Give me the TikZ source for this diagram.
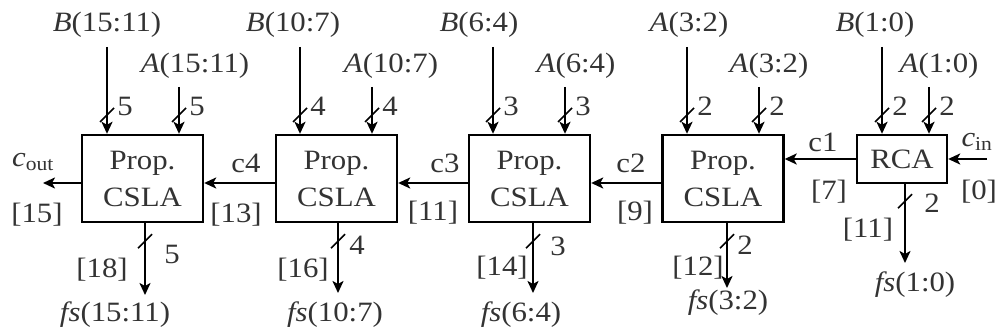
\documentclass[tikz,border=0pt]{standalone}
\usepackage{fontspec}
\setmainfont[FakeStretch=1.1]{Liberation Serif}
\usetikzlibrary{arrows.meta,decorations.markings}
\tikzset{
    blk/.style={rectangle, draw, line width=2.4pt, minimum width=121pt, minimum height=87pt, align=center, inner sep=0pt, text=black!80},
    wire/.style={line width=2.2pt, -{Stealth[length=12pt,width=11pt,inset=3pt]}},
    bus/.style={postaction={decorate, decoration={markings, mark=at position #1 with {\draw[line width=1.6pt,-] (-7pt,7pt) -- (7pt,-7pt);}}}},
    txt/.style={inner sep=0pt, text=black!80}
}

\begin{document}
\begin{tikzpicture}[x=1pt, y=-1pt, font=\fontsize{28}{37}\selectfont]
        \useasboundingbox (0,0) rectangle (997,334);
        \node (p1) [blk] at (142.5,178.5) {Prop.\\CSLA};
        \node (p2) [blk] at (336.5,178.5) {Prop.\\CSLA};
        \node (p3) [blk] at (529.5,178.5) {Prop.\\CSLA};
        \node (p4) [blk] at (723,178.5) {Prop.\\CSLA};
        \node (rca) [blk, minimum width=90pt, minimum height=48pt] at (902,159) {RCA};

        \node (lb1) [txt] at (107,25) {\textit{B}(15:11)};
        \node (la1) [txt] at (195,66) {\textit{A}(15:11)};
        \node (lb2) [txt] at (293,25) {\textit{B}(10:7)};
        \node (la2) [txt] at (391,66) {\textit{A}(10:7)};
        \node (lb3) [txt] at (479,25) {\textit{B}(6:4)};
        \node (la3) [txt] at (576,66) {\textit{A}(6:4)};
        \node (lb4) [txt] at (689,25) {\textit{A}(3:2)};
        \node (la4) [txt] at (769,66) {\textit{A}(3:2)};
        \node (lb5) [txt] at (875,25) {\textit{B}(1:0)};
        \node (la5) [txt] at (939,66) {\textit{A}(1:0)};

        \coordinate (b1) at (107,47);
        \coordinate (a1) at (179,87);
        \coordinate (b2) at (300,47);
        \coordinate (a2) at (372,87);
        \coordinate (b3) at (493,47);
        \coordinate (a3) at (565,87);
        \coordinate (b4) at (687,47);
        \coordinate (a4) at (759,87);
        \coordinate (b5) at (882,47);
        \coordinate (a5) at (929,87);
        \draw[wire, bus=68pt] (b1) -- (b1 |- p1.north);
        \draw[wire, bus=28pt] (a1) -- (a1 |- p1.north);
        \draw[wire, bus=68pt] (b2) -- (b2 |- p2.north);
        \draw[wire, bus=28pt] (a2) -- (a2 |- p2.north);
        \draw[wire, bus=68pt] (b3) -- (b3 |- p3.north);
        \draw[wire, bus=28pt] (a3) -- (a3 |- p3.north);
        \draw[wire, bus=68pt] (b4) -- (b4 |- p4.north);
        \draw[wire, bus=28pt] (a4) -- (a4 |- p4.north);
        \draw[wire, bus=68pt] (b5) -- (b5 |- rca.north);
        \draw[wire, bus=28pt] (a5) -- (a5 |- rca.north);
        \node (nb1) [txt] at (125,106) {5};
        \node (na1) [txt] at (197,106) {5};
        \node (nb2) [txt] at (318,106) {4};
        \node (na2) [txt] at (390,106) {4};
        \node (nb3) [txt] at (511,106) {3};
        \node (na3) [txt] at (583,106) {3};
        \node (nb4) [txt] at (705,106) {2};
        \node (na4) [txt] at (777,106) {2};
        \node (nb5) [txt] at (900,106) {2};
        \node (na5) [txt] at (947,106) {2};

        \coordinate (o1) at (145,295);
        \coordinate (o2) at (338,293);
        \coordinate (o3) at (533,293);
        \coordinate (o4) at (727,288);
        \coordinate (o5) at (905,263);
        \draw[wire, bus=18pt] (o1 |- p1.south) -- (o1);
        \draw[wire, bus=18pt] (o2 |- p2.south) -- (o2);
        \draw[wire, bus=18pt] (o3 |- p3.south) -- (o3);
        \draw[wire, bus=18pt] (o4 |- p4.south) -- (o4);
        \draw[wire, bus=17pt] (o5 |- rca.south) -- (o5);
        \node (no1) [txt] at (172,254) {5};
        \node (no2) [txt] at (357,245) {4};
        \node (no3) [txt] at (558,246) {3};
        \node (no4) [txt] at (745,245) {2};
        \node (no5) [txt] at (932,203) {2};
        \node (d1) [txt] at (102,270) {[18]};
        \node (d2) [txt] at (303,270) {[16]};
        \node (d3) [txt] at (502,268) {[14]};
        \node (d4) [txt] at (698,268) {[12]};
        \node (d5) [txt] at (868,230) {[11]};
        \node (f1) [txt] at (115,315) {\textit{fs}(15:11)};
        \node (f2) [txt] at (335,315) {\textit{fs}(10:7)};
        \node (f3) [txt] at (521,315) {\textit{fs}(6:4)};
        \node (f4) [txt] at (728,303) {\textit{fs}(3:2)};
        \node (f5) [txt] at (915,285) {\textit{fs}(1:0)};

        \coordinate (cout) at (43,183);
        \coordinate (cin) at (987,159);
        \draw[wire] ([yshift=-4.5pt]p1.west) -- (cout);
        \draw[wire] ([yshift=-4.5pt]p2.west) -- ([yshift=-4.5pt]p1.east);
        \draw[wire] ([yshift=-4.5pt]p3.west) -- ([yshift=-4.5pt]p2.east);
        \draw[wire] ([yshift=-4.5pt]p4.west) -- ([yshift=-4.5pt]p3.east);
        \draw[wire] (rca.west) -- (rca.west -| p4.east);
        \draw[wire] (cin) -- (rca.east);
        \node (tco) [txt] at (33,162) {\textit{c}\textsubscript{out}};
        \node (tc4) [txt] at (246,163) {c4};
        \node (tc3) [txt] at (445,163) {c3};
        \node (tc2) [txt] at (631,163) {c2};
        \node (tc1) [txt] at (823,142) {c1};
        \node (tci) [txt] at (977,142) {\textit{c}\textsubscript{in}};
        \node (e15) [txt] at (37,215) {[15]};
        \node (e13) [txt] at (236,215) {[13]};
        \node (e11) [txt] at (433,213) {[11]};
        \node (e9) [txt] at (635,213) {[9]};
        \node (e7) [txt] at (829,192) {[7]};
        \node (e0) [txt] at (979,192) {[0]};
\end{tikzpicture}
\end{document}
